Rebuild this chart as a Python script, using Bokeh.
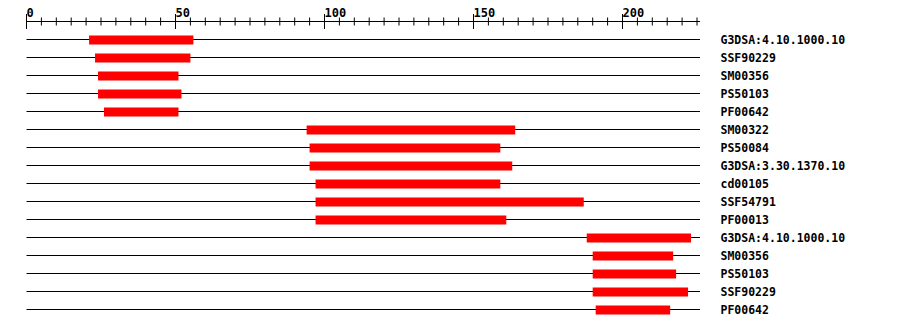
from bokeh.plotting import figure
from bokeh.models import Range1d, ColumnDataSource
from bokeh.core.properties import value
from bokeh.transform import dodge
from bokeh.embed import file_html
from bokeh.resources import INLINE

# ---- data ----
seq_length = 226
labels = ["G3DSA:4.10.1000.10", "SSF90229", "SM00356", "PS50103", "PF00642",
          "SM00322", "PS50084", "G3DSA:3.30.1370.10", "cd00105", "SSF54791",
          "PF00013", "G3DSA:4.10.1000.10", "SM00356", "PS50103", "SSF90229",
          "PF00642"]
starts = [21, 23, 24, 24, 26, 94, 95, 95, 97, 97, 97, 188, 190, 190, 190, 191]
ends = [56, 55, 51, 52, 51, 164, 159, 163, 159, 187, 161, 223, 217, 218, 222, 216]
tick_step = 5
major_step = 50
tick_max = 225

# ---- layout ----
W, H = 900, 328
x0_px, px_per_unit = 26.0, 2.98
row0_px, row_px = 39.0, 18.0

p = figure(width=W, height=H, output_backend="svg", toolbar_location=None,
           x_range=Range1d(-x0_px / px_per_unit, (W - x0_px) / px_per_unit),
           y_range=Range1d((H - row0_px) / row_px, -row0_px / row_px),
           min_border=0, outline_line_color=None)
p.axis.visible = False
p.grid.visible = False
p.background_fill_color = "white"
p.border_fill_color = "white"

rows = list(range(len(labels)))
src = ColumnDataSource(dict(y=rows, s=starts, e=ends, lab=labels,
                            x0=[0] * len(rows), x1=[seq_length] * len(rows)))

# row baselines
p.segment(x0="x0", y0="y", x1="x1", y1="y", source=src, line_color="black", line_width=1)
# bars (half-pixel shift so the fill edges land on whole pixels)
p.hbar(y=dodge("y", 0.5 / row_px, range=p.y_range), left="s", right="e", height=0.5,
       source=src, fill_color="#ff0000", line_color=None)
# labels
label_x = seq_length + (720 - (x0_px + seq_length * px_per_unit)) / px_per_unit
p.text(x=label_x, y="y", text="lab", source=src, text_font=value("DejaVu Sans Mono"),
       text_font_style="bold", text_font_size="11.5px", text_baseline="middle",
       text_align="left", text_color="black")

# axis
axis_y = -1.0
p.segment(x0=[0], y0=[axis_y], x1=[seq_length], y1=[axis_y], line_color="black", line_width=1)
ticks = list(range(0, tick_max + 1, tick_step))
minor = [t for t in ticks if t % major_step != 0]
major = [t for t in ticks if t % major_step == 0]
p.segment(x0=minor, y0=[axis_y - 4 / row_px] * len(minor), x1=minor,
          y1=[axis_y + 4 / row_px] * len(minor), line_color="black", line_width=1)
p.segment(x0=major, y0=[axis_y - 7.5 / row_px] * len(major), x1=major,
          y1=[axis_y + 7.5 / row_px] * len(major), line_color="black", line_width=1)
p.text(x=major, y=[axis_y - 9 / row_px] * len(major), text=[str(t) for t in major],
       text_font=value("DejaVu Sans Mono"), text_font_style="bold",
       text_font_size="12px", text_baseline="alphabetic", text_align="left",
       text_color="black")

open("out.html", "w").write(file_html(p, INLINE))
